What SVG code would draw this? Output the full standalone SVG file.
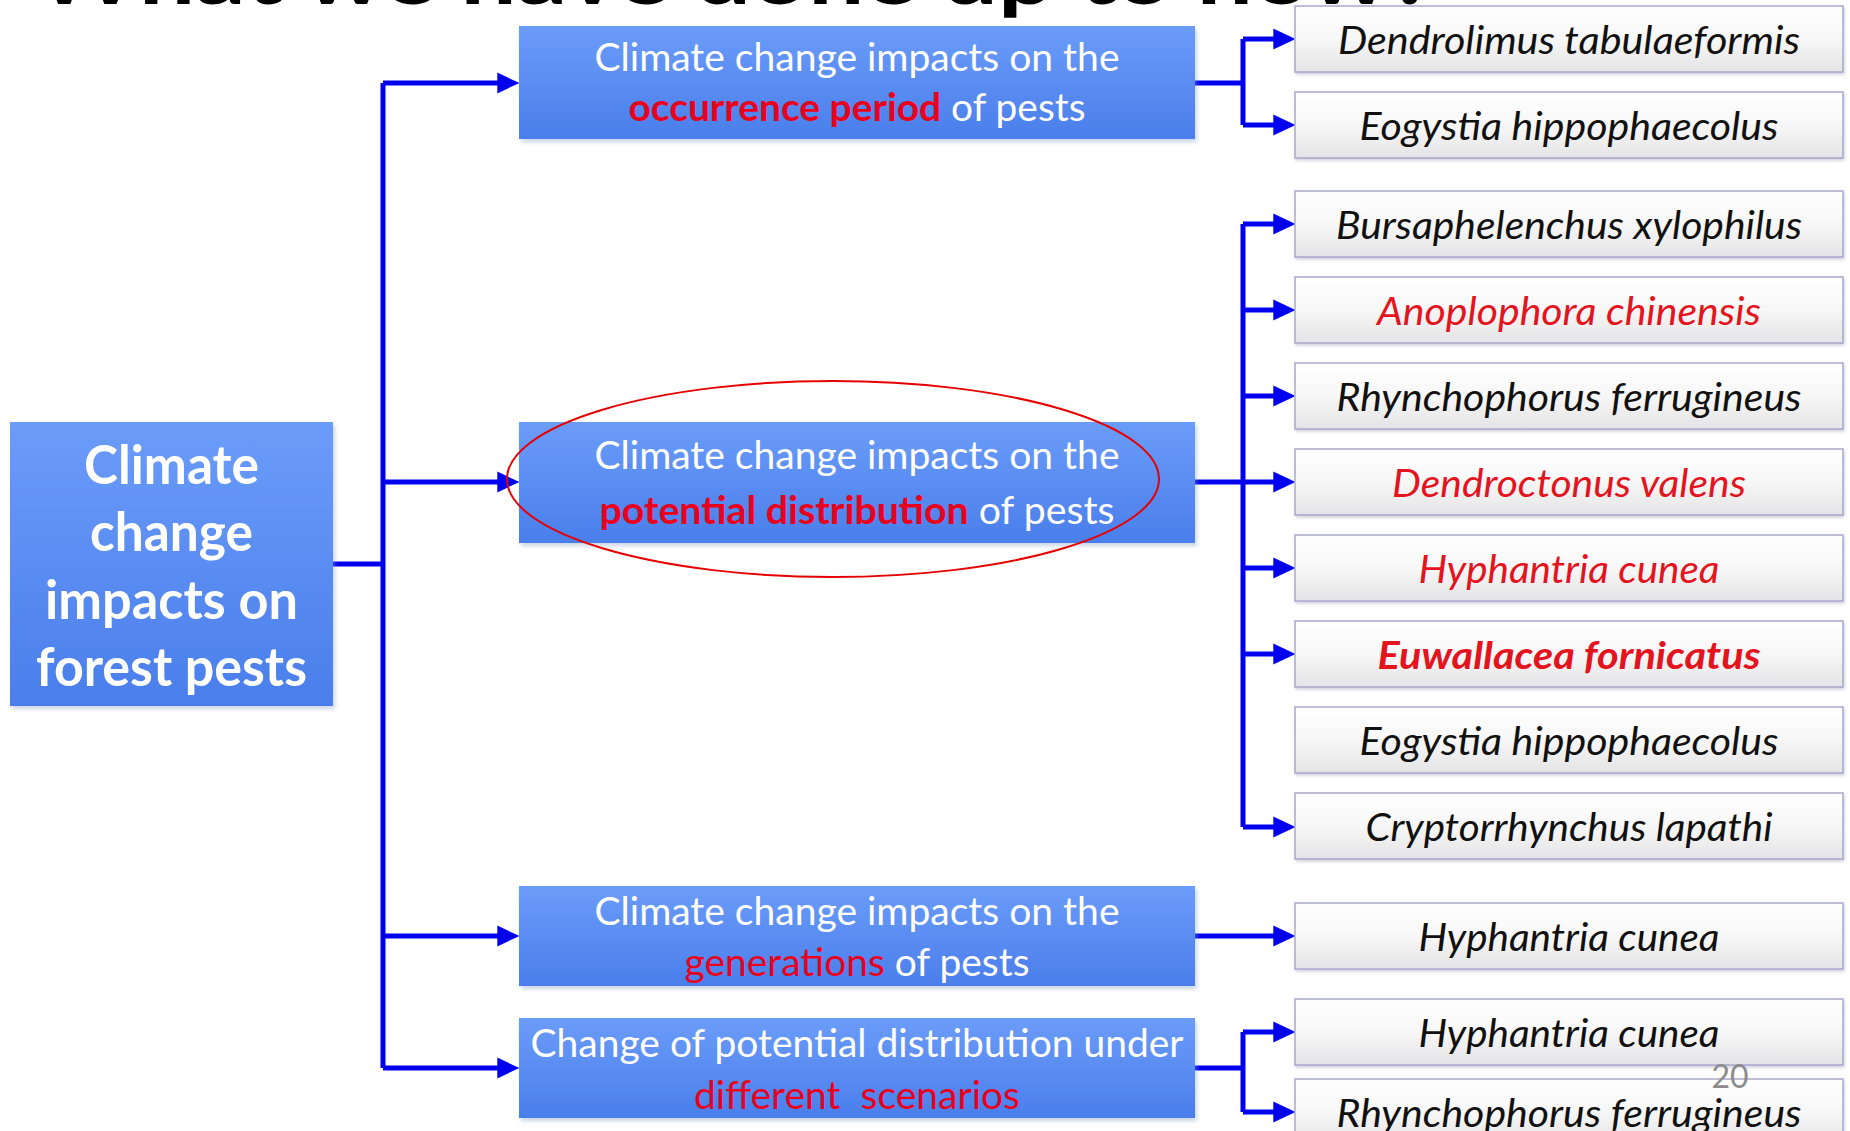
<svg xmlns="http://www.w3.org/2000/svg" width="1850" height="1131" viewBox="0 0 1850 1131">
<style>
.t{font-family:Lato,"Open Sans","Liberation Sans",sans-serif}
.w{fill:#ffffff}
.mid{font-size:39px}
.root{font-size:54px;font-weight:bold;fill:#ffffff}
.r{fill:#e8001c}
.b{font-weight:bold}
.sp{font-size:38px;font-style:italic;fill:#111111}
.red{fill:#e4141e}
.bluebox{fill:url(#blueG);filter:url(#sh)}
.graybox{fill:url(#grayG);stroke:#a9a9cc;stroke-width:1.5;filter:url(#sh2)}
.conn{stroke:#0000ee;stroke-width:5;fill:none}
.arr{stroke:#0000ee;stroke-width:5;fill:none;marker-end:url(#ah)}
</style>
<defs>
<linearGradient id="blueG" x1="0" y1="0" x2="0" y2="1">
<stop offset="0" stop-color="#6b9cf9"/>
<stop offset="1" stop-color="#4a7eeb"/>
</linearGradient>
<linearGradient id="grayG" x1="0" y1="0" x2="0" y2="1">
<stop offset="0" stop-color="#ffffff"/>
<stop offset="0.5" stop-color="#f7f7f7"/>
<stop offset="1" stop-color="#e4e4e6"/>
</linearGradient>
<filter id="sh" x="-5%" y="-10%" width="110%" height="125%">
<feDropShadow dx="2" dy="3" stdDeviation="2" flood-color="#8aa0c8" flood-opacity="0.45"/>
</filter>
<filter id="sh2" x="-5%" y="-10%" width="110%" height="130%">
<feDropShadow dx="1" dy="2" stdDeviation="1.5" flood-color="#9090b0" flood-opacity="0.4"/>
</filter>
<marker id="ah" markerUnits="userSpaceOnUse" markerWidth="22" markerHeight="22" refX="15" refY="10" orient="auto" viewBox="0 0 21 20">
<path d="M0,0 L21,10 L0,20 z" fill="#0000ee"/>
</marker>
</defs>

<g id="title">
<text class="t" x="35" y="4" font-family="'Liberation Sans',sans-serif" font-size="80" font-weight="bold" fill="#000000" textLength="1400" lengthAdjust="spacingAndGlyphs">What we have done up to now?</text>
</g>

<g id="connectors">
<path class="conn" d="M333,564 H383 M383,83 V1068"/>
<path class="arr" d="M383,83 H513"/>
<path class="arr" d="M383,482 H513"/>
<path class="arr" d="M383,936 H513"/>
<path class="arr" d="M383,1068 H513"/>
<path class="conn" d="M1195,83 H1243 M1243,39 V125"/>
<path class="arr" d="M1243,39 H1289"/>
<path class="arr" d="M1243,125 H1289"/>
<path class="conn" d="M1195,482 H1243 M1243,224 V827"/>
<path class="arr" d="M1243,224 H1289"/>
<path class="arr" d="M1243,310 H1289"/>
<path class="arr" d="M1243,396 H1289"/>
<path class="arr" d="M1243,482 H1289"/>
<path class="arr" d="M1243,568 H1289"/>
<path class="arr" d="M1243,654 H1289"/>
<path class="arr" d="M1243,827 H1289"/>
<path class="arr" d="M1195,936 H1289"/>
<path class="conn" d="M1195,1068 H1243 M1243,1032 V1112"/>
<path class="arr" d="M1243,1032 H1289"/>
<path class="arr" d="M1243,1112 H1289"/>
</g>

<g id="root">
<rect class="bluebox" x="10" y="422" width="323" height="284"/>
<text class="t root" x="171.5" y="484" text-anchor="middle" textLength="175" lengthAdjust="spacingAndGlyphs">Climate</text>
<text class="t root" x="171.5" y="551" text-anchor="middle" textLength="163" lengthAdjust="spacingAndGlyphs">change</text>
<text class="t root" x="171.5" y="619" text-anchor="middle" textLength="253" lengthAdjust="spacingAndGlyphs">impacts on</text>
<text class="t root" x="171.5" y="686" text-anchor="middle" textLength="271" lengthAdjust="spacingAndGlyphs">forest pests</text>
</g>

<g id="occurrence">
<rect class="bluebox" x="519" y="26" width="676" height="113"/>
<text class="t mid w" x="857" y="71" text-anchor="middle" textLength="525" lengthAdjust="spacingAndGlyphs">Climate change impacts on the</text>
<text class="t mid" x="857" y="121" text-anchor="middle" textLength="457" lengthAdjust="spacingAndGlyphs"><tspan class="r b">occurrence period</tspan><tspan class="w"> of pests</tspan></text>
</g>

<g id="distribution">
<rect class="bluebox" x="519" y="422" width="676" height="121"/>
<text class="t mid w" x="857" y="469" text-anchor="middle" textLength="525" lengthAdjust="spacingAndGlyphs">Climate change impacts on the</text>
<text class="t mid" x="857" y="524" text-anchor="middle" textLength="515" lengthAdjust="spacingAndGlyphs"><tspan class="r b">potential distribution</tspan><tspan class="w"> of pests</tspan></text>
</g>

<g id="generations">
<rect class="bluebox" x="519" y="886" width="676" height="100"/>
<text class="t mid w" x="857" y="925" text-anchor="middle" textLength="525" lengthAdjust="spacingAndGlyphs">Climate change impacts on the</text>
<text class="t mid" x="857" y="976" text-anchor="middle" textLength="345" lengthAdjust="spacingAndGlyphs"><tspan class="r">generations</tspan><tspan class="w"> of pests</tspan></text>
</g>

<g id="scenarios">
<rect class="bluebox" x="519" y="1018" width="676" height="100"/>
<text class="t mid w" x="857" y="1057" text-anchor="middle" textLength="653" lengthAdjust="spacingAndGlyphs">Change of potential distribution under</text>
<text class="t mid r" x="857" y="1109" text-anchor="middle" textLength="326" lengthAdjust="spacingAndGlyphs" xml:space="preserve">different  scenarios</text>
</g>

<g id="highlight">
<ellipse cx="833" cy="479" rx="326" ry="98" fill="none" stroke="#e60000" stroke-width="2"/>
</g>

<g id="sp1"><rect class="graybox" x="1295" y="6" width="548" height="66"/>
<text class="t sp" x="1569" y="54" text-anchor="middle" textLength="462" lengthAdjust="spacingAndGlyphs">Dendrolimus tabulaeformis</text></g>
<g id="sp2"><rect class="graybox" x="1295" y="92" width="548" height="66"/>
<text class="t sp" x="1569" y="140" text-anchor="middle" textLength="419" lengthAdjust="spacingAndGlyphs">Eogystia hippophaecolus</text></g>
<g id="sp3"><rect class="graybox" x="1295" y="191" width="548" height="66"/>
<text class="t sp" x="1569" y="239" text-anchor="middle" textLength="466" lengthAdjust="spacingAndGlyphs">Bursaphelenchus xylophilus</text></g>
<g id="sp4"><rect class="graybox" x="1295" y="277" width="548" height="66"/>
<text class="t sp red" x="1569" y="325" text-anchor="middle" textLength="384" lengthAdjust="spacingAndGlyphs">Anoplophora chinensis</text></g>
<g id="sp5"><rect class="graybox" x="1295" y="363" width="548" height="66"/>
<text class="t sp" x="1569" y="411" text-anchor="middle" textLength="465" lengthAdjust="spacingAndGlyphs">Rhynchophorus ferrugineus</text></g>
<g id="sp6"><rect class="graybox" x="1295" y="449" width="548" height="66"/>
<text class="t sp red" x="1569" y="497" text-anchor="middle" textLength="354" lengthAdjust="spacingAndGlyphs">Dendroctonus valens</text></g>
<g id="sp7"><rect class="graybox" x="1295" y="535" width="548" height="66"/>
<text class="t sp red" x="1569" y="583" text-anchor="middle" textLength="301" lengthAdjust="spacingAndGlyphs">Hyphantria cunea</text></g>
<g id="sp8"><rect class="graybox" x="1295" y="621" width="548" height="66"/>
<text class="t sp red b" x="1569" y="669" text-anchor="middle" textLength="383" lengthAdjust="spacingAndGlyphs">Euwallacea fornicatus</text></g>
<g id="sp9"><rect class="graybox" x="1295" y="707" width="548" height="66"/>
<text class="t sp" x="1569" y="755" text-anchor="middle" textLength="419" lengthAdjust="spacingAndGlyphs">Eogystia hippophaecolus</text></g>
<g id="sp10"><rect class="graybox" x="1295" y="793" width="548" height="66"/>
<text class="t sp" x="1569" y="841" text-anchor="middle" textLength="407" lengthAdjust="spacingAndGlyphs">Cryptorrhynchus lapathi</text></g>
<g id="sp11"><rect class="graybox" x="1295" y="903" width="548" height="66"/>
<text class="t sp" x="1569" y="951" text-anchor="middle" textLength="301" lengthAdjust="spacingAndGlyphs">Hyphantria cunea</text></g>
<g id="sp12"><rect class="graybox" x="1295" y="999" width="548" height="66"/>
<text class="t sp" x="1569" y="1047" text-anchor="middle" textLength="301" lengthAdjust="spacingAndGlyphs">Hyphantria cunea</text></g>
<g id="sp13"><rect class="graybox" x="1295" y="1079" width="548" height="66"/>
<text class="t sp" x="1569" y="1127" text-anchor="middle" textLength="465" lengthAdjust="spacingAndGlyphs">Rhynchophorus ferrugineus</text></g>

<g id="page-number">
<text class="t" x="1730" y="1088" text-anchor="middle" font-size="32" fill="#8c8c8c">20</text>
</g>
</svg>
